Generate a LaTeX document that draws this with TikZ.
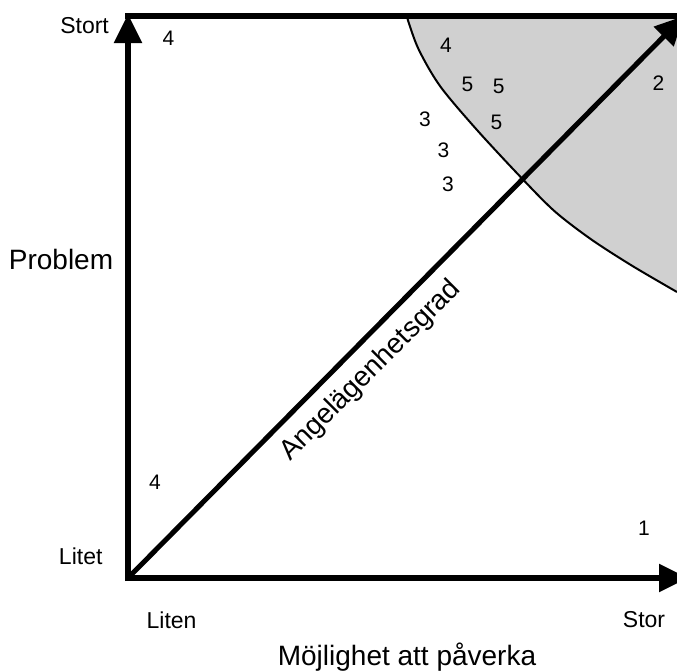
\documentclass[tikz,border=0pt]{standalone}
\usepackage{fontspec}
\setmainfont{Liberation Sans}
\usetikzlibrary{arrows.meta}
\definecolor{areagray}{RGB}{208,208,208}
\begin{document}
\begin{tikzpicture}[x=1pt,y=-1pt,
  axis/.style={line width=5.5pt, -{Triangle[length=29pt,width=27pt]}},
  small/.style={inner sep=0pt, font=\fontsize{23}{27}\selectfont},
  big/.style={inner sep=0pt, font=\fontsize{28}{32}\selectfont},
  num/.style={inner sep=0pt, font=\fontsize{21}{25}\selectfont}]
\useasboundingbox (0,0) rectangle (677,670);
\begin{scope}
\clip (0,0) rectangle (677,670);
% shaded region
\fill[areagray] (677,16) -- (677,292) -- plot[smooth] coordinates {(677,292) (632.5,266) (591.5,239.6) (555,211.6) (522.5,179) (477,130) (440,86) (418,48) (406,16)} -- cycle;
\draw[line width=2pt] plot[smooth] coordinates {(677,292) (632.5,266) (591.5,239.6) (555,211.6) (522.5,179) (477,130) (440,86) (418,48) (406,14)};
% coordinates
\coordinate (O) at (128,578);
\coordinate (Obot) at (128,581);
\coordinate (Oleft) at (125,578);
\coordinate (Ytop) at (128,14);
\coordinate (Xend) at (688,578);
\coordinate (Dend) at (684,16);
\coordinate (Tl) at (125,16);
\coordinate (Tr) at (680,16);
% top border
\draw[line width=6pt] (Tl) -- (Tr);
% axes
\draw[axis] (Obot) -- (Ytop);
\draw[axis] (Oleft) -- (Xend);
% diagonal
\draw[line width=5pt, -{Triangle[length=29pt,width=27pt]}] (O) -- (Dend);
\end{scope}
% labels
\node[small] (stort) at (84.6,26) {Stort};
\node[small] (litet) at (80.7,556) {Litet};
\node[small] (liten) at (171.6,620) {Liten};
\node[small] (stor) at (644,620) {Stor};
\node[big] (problem) at (61,259) {Problem};
\node[big, anchor=base] (mojlig) at (407,665) {Möjlighet att påverka};
\node[big, rotate=45] (angel) at (371,371) {Angelägenhetsgrad};
% numbers
\node[num] (n1) at (168.5,38.7) {4};
\node[num] (n2) at (446,45) {4};
\node[num] (n3) at (467.5,84) {5};
\node[num] (n4) at (498.6,86) {5};
\node[num] (n5) at (658.5,82.7) {2};
\node[num] (n6) at (425,119) {3};
\node[num] (n7) at (496.5,122) {5};
\node[num] (n8) at (443.5,150.5) {3};
\node[num] (n9) at (448,184) {3};
\node[num] (n10) at (155,482) {4};
\node[num] (n11) at (644,528) {1};
\end{tikzpicture}
\end{document}
